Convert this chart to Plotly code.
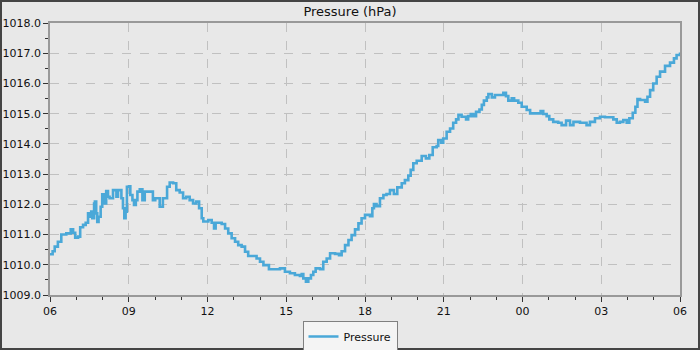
import pandas as pd
import plotly.graph_objects as go

# hours since 00:00 of the first day
hours = [6.00, 6.1, 6.18, 6.3, 6.43, 6.62, 6.79, 6.88, 6.96, 7.07, 7.15, 7.26, 7.36, 7.45, 7.51,
         7.57, 7.61, 7.68, 7.71, 7.76, 7.8, 7.85, 7.93, 7.99, 8.06, 8.14, 8.21, 8.27, 8.4, 8.53,
         8.59, 8.72, 8.78, 8.83, 8.88, 8.93, 9.01, 9.06, 9.14, 9.2, 9.27, 9.33, 9.42, 9.52, 9.61,
         9.8, 9.92, 10.01, 10.18, 10.3, 10.46, 10.56, 10.69, 10.81, 10.94, 11.07, 11.19, 11.32,
         11.45, 11.57, 11.68, 11.78, 11.84, 12.03, 12.16, 12.25, 12.31, 12.54, 12.67, 12.79,
         12.92, 13.05, 13.17, 13.3, 13.43, 13.55, 13.71, 13.87, 14.0, 14.13, 14.25, 14.34, 14.57,
         14.76, 14.95, 15.14, 15.33, 15.52, 15.59, 15.65, 15.75, 15.84, 15.94, 16.03, 16.12,
         16.29, 16.41, 16.54, 16.67, 16.86, 17.01, 17.11, 17.24, 17.37, 17.49, 17.62, 17.75,
         17.87, 18.0, 18.19, 18.28, 18.34, 18.44, 18.57, 18.7, 18.82, 18.95, 19.1, 19.23, 19.4,
         19.52, 19.65, 19.74, 19.84, 19.97, 20.16, 20.32, 20.45, 20.58, 20.73, 20.79, 20.9,
         20.98, 21.11, 21.24, 21.36, 21.47, 21.56, 21.68, 21.85, 21.93, 22.03, 22.13, 22.23,
         22.36, 22.45, 22.53, 22.64, 22.7, 22.83, 22.95, 23.14, 23.27, 23.37, 23.46, 23.59,
         23.68, 23.84, 23.97, 24.16, 24.29, 24.54, 24.69, 24.79, 24.92, 25.02, 25.17, 25.36,
         25.49, 25.66, 25.81, 25.94, 26.19, 26.44, 26.57, 26.76, 26.95, 27.14, 27.33, 27.46,
         27.59, 27.71, 27.84, 27.97, 28.07, 28.2, 28.3, 28.38, 28.48, 28.67, 28.76, 28.86,
         28.98, 29.11, 29.24, 29.43, 29.62, 29.77, 29.87, 30.0]

pressure = [1010.35, 1010.45, 1010.6, 1010.76, 1011.0, 1011.04, 1011.17, 1011.06, 1010.9, 1010.93,
            1011.24, 1011.32, 1011.39, 1011.7, 1011.59, 1011.76, 1011.54, 1012.03, 1012.09,
            1011.7, 1011.42, 1011.59, 1011.92, 1012.33, 1012.03, 1012.44, 1012.25, 1012.2,
            1012.47, 1012.25, 1012.47, 1012.2, 1011.87, 1011.54, 1011.76, 1012.58, 1012.6,
            1012.31, 1012.14, 1011.98, 1012.14, 1012.42, 1012.5, 1012.14, 1012.42, 1012.42,
            1012.14, 1012.2, 1011.92, 1012.2, 1012.58, 1012.72, 1012.7, 1012.47, 1012.39,
            1012.2, 1012.25, 1012.14, 1012.03, 1012.09, 1011.87, 1011.54, 1011.43, 1011.48,
            1011.39, 1011.2, 1011.39, 1011.35, 1011.2, 1011.04, 1010.88, 1010.76, 1010.65,
            1010.6, 1010.43, 1010.29, 1010.29, 1010.21, 1010.1, 1009.99, 1009.99, 1009.85,
            1009.85, 1009.88, 1009.77, 1009.72, 1009.66, 1009.63, 1009.69, 1009.55, 1009.44,
            1009.55, 1009.66, 1009.77, 1009.88, 1009.85, 1010.1, 1010.21, 1010.38, 1010.36,
            1010.32, 1010.45, 1010.65, 1010.82, 1010.98, 1011.17, 1011.37, 1011.54, 1011.65,
            1011.61, 1011.87, 1012.01, 1011.94, 1012.2, 1012.31, 1012.34, 1012.47, 1012.34,
            1012.56, 1012.7, 1012.8, 1012.95, 1013.14, 1013.36, 1013.44, 1013.6, 1013.52,
            1013.63, 1013.89, 1013.93, 1014.13, 1014.04, 1014.18, 1014.4, 1014.51, 1014.7,
            1014.81, 1014.96, 1014.9, 1014.81, 1014.92, 1014.99, 1014.92, 1015.06, 1015.14,
            1015.29, 1015.43, 1015.54, 1015.65, 1015.54, 1015.62, 1015.62, 1015.69, 1015.58,
            1015.43, 1015.51, 1015.43, 1015.36, 1015.23, 1015.12, 1015.01, 1015.01, 1015.09,
            1014.99, 1014.92, 1014.81, 1014.73, 1014.7, 1014.62, 1014.77, 1014.62, 1014.73,
            1014.7, 1014.62, 1014.73, 1014.85, 1014.9, 1014.88, 1014.88, 1014.81, 1014.7,
            1014.73, 1014.79, 1014.7, 1014.85, 1015.03, 1015.23, 1015.48, 1015.45, 1015.4,
            1015.56, 1015.78, 1016.0, 1016.22, 1016.39, 1016.58, 1016.69, 1016.83, 1016.94,
            1017.02]

base_day = pd.Timestamp("2024-01-01")
x_start = base_day + pd.Timedelta(hours=6)
x_end = base_day + pd.Timedelta(hours=30)
times = base_day + pd.to_timedelta(hours, unit="h")

W, H = 700, 350
ML, MR, MT, MB = 50, 20, 23, 55
PW, PH = W - ML - MR, H - MT - MB

fig = go.Figure()
fig.add_trace(go.Scatter(
    x=times, y=pressure, mode="lines", name="Pressure",
    line=dict(color="#4aa8d8", width=2.6, shape="hv"),
))

font = dict(family="DejaVu Sans", size=11, color="#111111")

fig.update_layout(
    width=W, height=H,
    margin=dict(l=ML, r=MR, t=MT, b=MB, autoexpand=False),
    paper_bgcolor="#e8e8e8", plot_bgcolor="#e8e8e8",
    font=font,
    title=dict(text="Pressure (hPa)", x=0.5, xref="container", xanchor="center",
               y=1 - 11.5 / H, yref="container", yanchor="middle",
               font=dict(family="DejaVu Sans", size=13, color="#111111")),
    showlegend=True,
    legend=dict(orientation="h", x=0.5, xref="container", xanchor="center",
                y=1 - 321 / H, yref="container", yanchor="top",
                bgcolor="#f4f4f4", bordercolor="#808080", borderwidth=1,
                font=dict(family="DejaVu Sans", size=11, color="#111111"),
                itemwidth=30, tracegroupgap=0),
    shapes=[dict(type="rect", xref="paper", yref="paper",
                 x0=-ML / PW, x1=1 + MR / PW, y0=-MB / PH, y1=1 + MT / PH,
                 line=dict(color="#444444", width=4), fillcolor="rgba(0,0,0,0)",
                 layer="above")],
)

fig.update_xaxes(
    type="date", range=[x_start, x_end], automargin=False,
    dtick=3 * 3600 * 1000, tickformat="%H",
    ticks="outside", ticklen=5, tickcolor="#333333", tickwidth=1,
    showgrid=True, gridcolor="#c0c0c0", griddash="dash", gridwidth=1,
    showline=True, linecolor="#999999", linewidth=1.5, mirror=True,
    zeroline=False,
    minor=dict(dtick=3600 * 1000, ticks="outside", ticklen=3, tickcolor="#333333",
               showgrid=False),
    tickfont=font,
)
fig.update_yaxes(
    range=[1009, 1018], dtick=1, tickformat=".1f", automargin=False,
    ticks="outside", ticklen=5, tickcolor="#333333", tickwidth=1,
    showgrid=True, gridcolor="#c0c0c0", griddash="dash", gridwidth=1,
    showline=True, linecolor="#999999", linewidth=1.5, mirror=True,
    zeroline=False,
    minor=dict(dtick=0.5, ticks="outside", ticklen=3, tickcolor="#333333",
               showgrid=False),
    tickfont=font,
)

fig.write_html("out.html")
